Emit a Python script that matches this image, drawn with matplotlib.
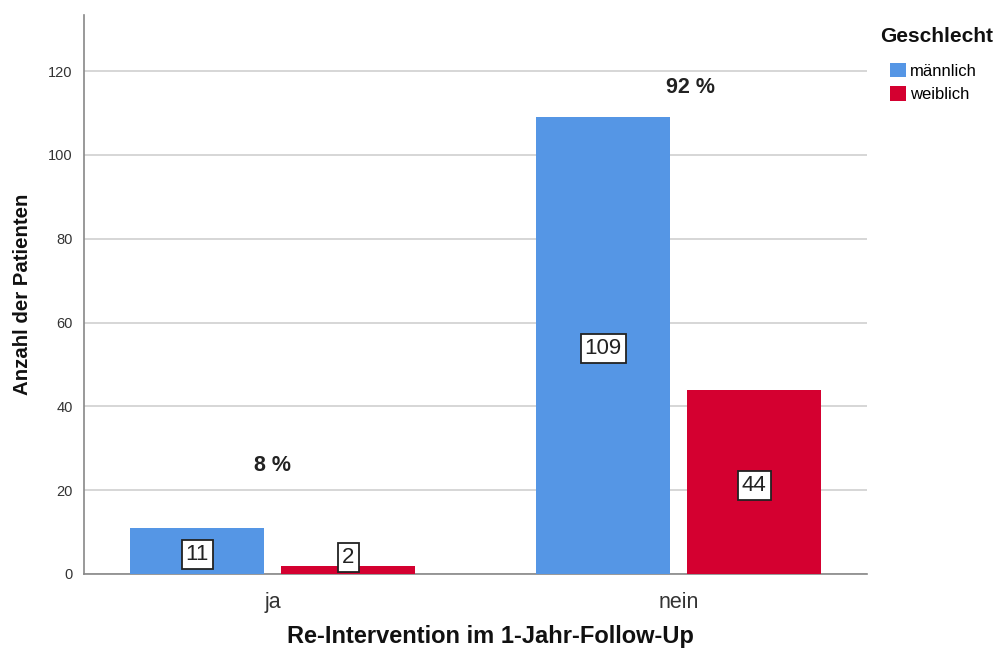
import matplotlib
matplotlib.use("Agg")
import matplotlib.pyplot as plt
import numpy as np

plt.rcParams['font.family'] = ['Liberation Sans', 'DejaVu Sans']

categories = ["ja", "nein"]
series_names = ["männlich", "weiblich"]
male_counts = [11, 109]
female_counts = [2, 44]
group_percent = ["8 %", "92 %"]
percent_y = [26, 116]
colors = ["#5596e5", "#d40030"]

fig = plt.figure(figsize=(10.02, 6.53), dpi=100)
ax = fig.add_axes([0.0838, 0.121, 0.781, 0.856])

x = np.arange(len(categories))
width = 0.33
offset = 0.186
bars_m = ax.bar(x - offset, male_counts, width, color=colors[0], label=series_names[0], zorder=3)
bars_f = ax.bar(x + offset, female_counts, width, color=colors[1], label=series_names[1], zorder=3)

# boxed count labels centred in each bar (kept clear of the baseline for short bars)
box = dict(boxstyle="square,pad=0.18", facecolor="white", edgecolor="#222222", linewidth=1.3)
for bars in (bars_m, bars_f):
    for b in bars:
        h = b.get_height()
        y = max(h / 2, 4.8)
        ax.text(b.get_x() + b.get_width() / 2, y - 0.8, f"{int(h)}", ha="center", va="center",
                fontsize=16, color="#222222", bbox=box, zorder=4)

for i, (txt, yy) in enumerate(zip(group_percent, percent_y)):
    xx = x[i] + (0 if i == 0 else 0.03)
    ax.text(xx, yy, txt, ha="center", va="center", fontsize=15.5, fontweight="bold", color="#222222")

ax.set_xlim(-0.4655, 1.463)
ax.set_ylim(0, 133.4)
ax.set_yticks([0, 20, 40, 60, 80, 100, 120])
ax.yaxis.grid(True, color="#cfcfcf", linewidth=1.2, zorder=0)
ax.set_axisbelow(True)
ax.set_xticks(x)
ax.set_xticklabels(categories, fontsize=15.5, color="#333333")
ax.tick_params(axis="y", length=0, labelsize=10.5, colors="#333333", pad=8)
ax.tick_params(axis="x", length=0, pad=13)
for s in ("top", "right"):
    ax.spines[s].set_visible(False)
for s in ("left", "bottom"):
    ax.spines[s].set_color("#888888")
    ax.spines[s].set_linewidth(1.2)

ax.set_ylabel("Anzahl der Patienten", fontsize=14.7, fontweight="bold", color="#111111", labelpad=12)
fig.text(490 / 1002, 1 - 637 / 653, "Re-Intervention im 1-Jahr-Follow-Up", ha="center", va="center",
         fontsize=17, fontweight="bold", color="#111111")

# legend title and entries
fig.text(880 / 1002, 1 - 37 / 653, "Geschlecht", ha="left", va="center",
         fontsize=15, fontweight="bold", color="#111111")
leg = fig.legend(loc="upper left", bbox_to_anchor=(890 / 1002, 1 - 63 / 653), frameon=False,
                 fontsize=12, handlelength=0.95, handleheight=0.95,
                 handletextpad=0.25, labelspacing=0.45, borderpad=0, borderaxespad=0)

fig.savefig("out.png", dpi=100)
